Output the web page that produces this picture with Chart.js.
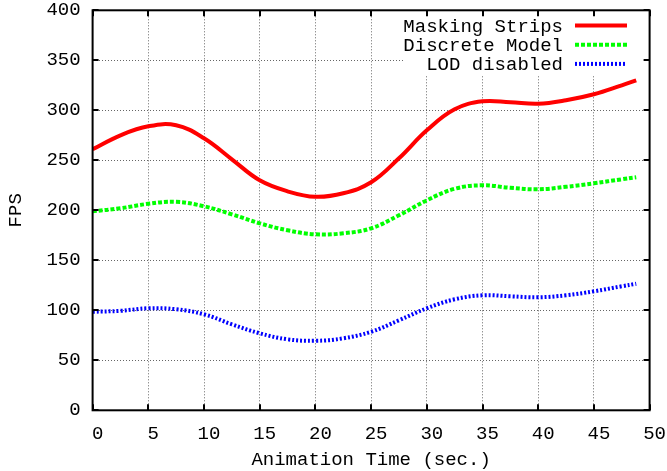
<!DOCTYPE html>
<html>
<head>
<meta charset="utf-8">
<script src="https://cdn.jsdelivr.net/npm/chart.js@4/dist/chart.umd.min.js"></script>
<style>
html, body { margin: 0; padding: 0; background: #fff; }
</style>
</head>
<body>
<canvas id="chart" width="667" height="471"></canvas>
<script>
// animation time (sec.)
var times = [0, 2.5, 5, 7.5, 10, 12.5, 15, 17.5, 20, 22.5, 25, 27.5, 30, 32.5, 35, 37.5, 40, 42.5, 45, 47.5, 48.8];

// FPS per method
var maskingStrips = [261, 275, 284, 285, 272, 251, 230, 219, 213.5, 217, 228, 252, 280, 301, 309, 308, 306.5, 310, 316, 325, 330];
var discreteModel = [199, 202, 206.5, 208.5, 204, 196, 187, 180, 176, 177, 182, 195, 210, 221.5, 225, 222.5, 221, 223.5, 227, 231, 233];
var lodDisabled = [98.5, 99.5, 102, 101, 96, 86, 77, 71, 69.5, 72, 78.5, 90, 102, 111, 115, 114, 113, 115, 119, 124, 126.5];

var seriesLabels = ['Masking Strips', 'Discrete Model', 'LOD disabled'];

var FONT = 'Liberation Mono';

function toPoints(ys) {
    var pts = [];
    for (var i = 0; i < times.length; i++) {
        pts.push({x: times[i], y: ys[i]});
    }
    return pts;
}

// gnuplot style key, drawn over the grid with a white box behind it
var keyPlugin = {
    id: 'key',
    beforeDatasetsDraw: function (chart) {
        var ctx = chart.ctx;
        var a = chart.chartArea;
        ctx.save();
        ctx.fillStyle = '#fff';
        ctx.fillRect(403, a.top + 1, a.right - 403 - 1, 75 - a.top);
        ctx.font = '19px "' + FONT + '"';
        ctx.textAlign = 'right';
        ctx.textBaseline = 'middle';
        chart.data.datasets.forEach(function (ds, i) {
            var y = 25.5 + 19.2 * i;
            ctx.fillStyle = '#000';
            ctx.fillText(ds.label, 563, y + 1);
            ctx.strokeStyle = ds.borderColor;
            ctx.lineWidth = ds.borderWidth;
            ctx.setLineDash(ds.borderDash || []);
            ctx.beginPath();
            ctx.moveTo(575, y);
            ctx.lineTo(627, y);
            ctx.stroke();
        });
        ctx.restore();
    }
};

// black frame with inward ticks on all four sides
var framePlugin = {
    id: 'frame',
    afterDraw: function (chart) {
        var ctx = chart.ctx;
        var a = chart.chartArea;
        var xs = chart.scales.x;
        var ys = chart.scales.y;
        ctx.save();
        ctx.strokeStyle = '#000';
        ctx.lineWidth = 2;
        ctx.beginPath();
        xs.ticks.forEach(function (t) {
            var px = Math.round(xs.getPixelForValue(t.value));
            ctx.moveTo(px, a.bottom);
            ctx.lineTo(px, a.bottom - 6);
            ctx.moveTo(px, a.top);
            ctx.lineTo(px, a.top + 6);
        });
        ys.ticks.forEach(function (t) {
            var py = Math.round(ys.getPixelForValue(t.value));
            ctx.moveTo(a.left, py);
            ctx.lineTo(a.left + 6, py);
            ctx.moveTo(a.right, py);
            ctx.lineTo(a.right - 6, py);
        });
        ctx.stroke();
        ctx.strokeRect(a.left, a.top, a.right - a.left, a.bottom - a.top);
        ctx.restore();
    }
};

var ctx = document.getElementById('chart').getContext('2d');
var chart = new Chart(ctx, {
    type: 'line',
    data: {
        datasets: [{
            label: seriesLabels[0],
            data: toPoints(maskingStrips),
            borderColor: '#ff0000',
            borderWidth: 4,
            tension: 0.4
        }, {
            label: seriesLabels[1],
            data: toPoints(discreteModel),
            borderColor: '#00ff00',
            borderWidth: 4,
            borderDash: [4, 2],
            tension: 0.4
        }, {
            label: seriesLabels[2],
            data: toPoints(lodDisabled),
            borderColor: '#0000ff',
            borderWidth: 4,
            borderDash: [2, 2],
            tension: 0.4
        }]
    },
    options: {
        responsive: false,
        animation: false,
        layout: {padding: {top: 10.3, right: 17.4, left: 0, bottom: 0}},
        elements: {point: {radius: 0}},
        plugins: {
            legend: {display: false},
            tooltip: {enabled: false}
        },
        scales: {
            x: {
                type: 'linear',
                min: 0,
                max: 50,
                ticks: {
                    stepSize: 5,
                    color: '#000',
                    padding: 12,
                    labelOffset: 5,
                    maxRotation: 0,
                    font: {family: FONT, size: 19}
                },
                grid: {color: 'rgba(0,0,0,0.6)', lineWidth: 1, drawTicks: false},
                border: {display: false, dash: [1, 2]},
                title: {
                    display: true,
                    text: 'Animation Time (sec.)',
                    color: '#000',
                    padding: {top: 0, bottom: 0},
                    font: {family: FONT, size: 19}
                },
                afterFit: function (scale) {
                    scale.height = 60.7;
                    scale.paddingLeft = 0;
                    scale.paddingRight = 0;
                }
            },
            y: {
                min: 0,
                max: 400,
                ticks: {
                    stepSize: 50,
                    color: '#000',
                    padding: 12,
                    font: {family: FONT, size: 19}
                },
                grid: {color: 'rgba(0,0,0,0.6)', lineWidth: 1, drawTicks: false},
                border: {display: false, dash: [1, 2]},
                title: {
                    display: true,
                    text: 'FPS',
                    color: '#000',
                    padding: {top: 5, bottom: 0},
                    font: {family: FONT, size: 19}
                },
                afterFit: function (scale) {
                    scale.width = 92.6;
                    scale.paddingTop = 0;
                    scale.paddingBottom = 0;
                }
            }
        }
    },
    plugins: [keyPlugin, framePlugin]
});
</script>
</body>
</html>
